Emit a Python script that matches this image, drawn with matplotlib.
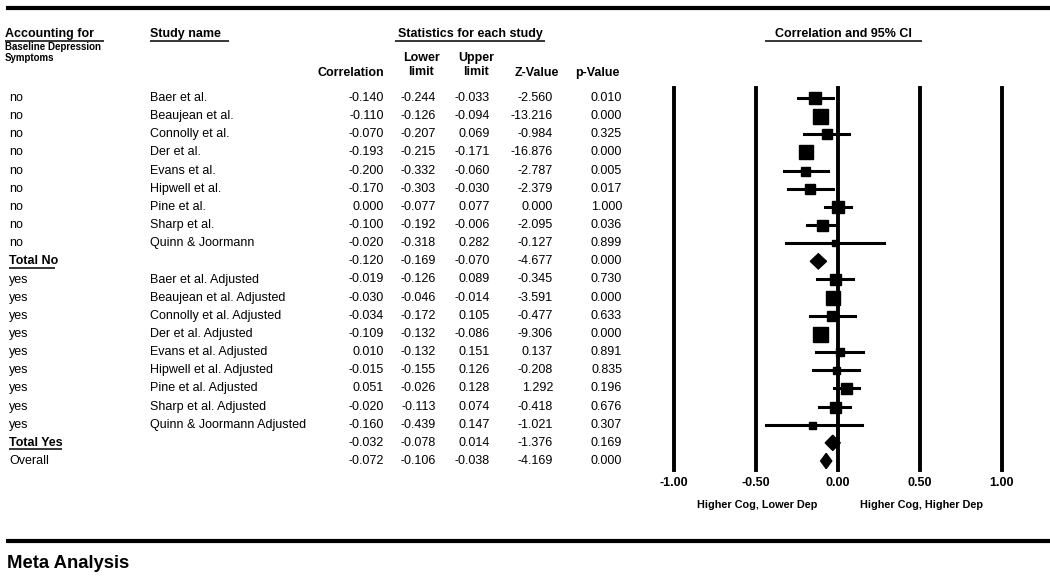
import matplotlib
matplotlib.use('Agg')
import matplotlib.pyplot as plt
from matplotlib.patches import Polygon

plt.rcParams['font.family'] = ['Liberation Sans', 'DejaVu Sans']

# Data
groups = ['no'] * 9 + ['Total No'] + ['yes'] * 9 + ['Total Yes', 'Overall']
studies = ['Baer et al.', 'Beaujean et al.', 'Connolly et al.', 'Der et al.',
           'Evans et al.', 'Hipwell et al.', 'Pine et al.', 'Sharp et al.',
           'Quinn & Joormann', '',
           'Baer et al. Adjusted', 'Beaujean et al. Adjusted', 'Connolly et al. Adjusted',
           'Der et al. Adjusted', 'Evans et al. Adjusted', 'Hipwell et al. Adjusted',
           'Pine et al. Adjusted', 'Sharp et al. Adjusted', 'Quinn & Joormann Adjusted',
           '', '']
corr = [-0.140, -0.110, -0.070, -0.193, -0.200, -0.170, 0.000, -0.100, -0.020, -0.120,
        -0.019, -0.030, -0.034, -0.109, 0.010, -0.015, 0.051, -0.020, -0.160, -0.032, -0.072]
lower = [-0.244, -0.126, -0.207, -0.215, -0.332, -0.303, -0.077, -0.192, -0.318, -0.169,
         -0.126, -0.046, -0.172, -0.132, -0.132, -0.155, -0.026, -0.113, -0.439, -0.078, -0.106]
upper = [-0.033, -0.094, 0.069, -0.171, -0.060, -0.030, 0.077, -0.006, 0.282, -0.070,
         0.089, -0.014, 0.105, -0.086, 0.151, 0.126, 0.128, 0.074, 0.147, 0.014, -0.038]
zval = [-2.560, -13.216, -0.984, -16.876, -2.787, -2.379, 0.000, -2.095, -0.127, -4.677,
        -0.345, -3.591, -0.477, -9.306, 0.137, -0.208, 1.292, -0.418, -1.021, -1.376, -4.169]
pval = [0.010, 0.000, 0.325, 0.000, 0.005, 0.017, 1.000, 0.036, 0.899, 0.000,
        0.730, 0.000, 0.633, 0.000, 0.891, 0.835, 0.196, 0.676, 0.307, 0.169, 0.000]
# relative study weight (box size)
weights = [12, 15, 10, 14, 9, 10, 12, 11, 6, 0,
           11, 14, 10, 15, 8, 7, 11, 11, 7, 0, 0]
ticks = [-1.0, -0.5, 0.0, 0.5, 1.0]

W, H = 1050, 580
fig = plt.figure(figsize=(W / 100, H / 100), dpi=100)
bg = fig.add_axes([0, 0, 1, 1])
bg.set_xlim(0, W)
bg.set_ylim(H, 0)
bg.axis('off')

fs = 9
y0, dy = 98, 18.15


def underline(x1, x2, y):
    bg.plot([x1, x2], [y, y], color='black', lw=1.1, solid_capstyle='butt')


# rules
bg.plot([6, W], [8, 8], color='black', lw=3, solid_capstyle='butt')
bg.plot([6, W], [541, 541], color='black', lw=3, solid_capstyle='butt')
bg.text(7, 564, 'Meta Analysis', fontsize=13.3, fontweight='bold', va='center')

# headers
bg.text(5, 34, 'Accounting for', fontsize=fs, fontweight='bold', va='center')
underline(5, 104, 41)
bg.text(5, 47, 'Baseline Depression', fontsize=7, fontweight='bold', va='center')
bg.text(5, 58, 'Symptoms', fontsize=7, fontweight='bold', va='center')
bg.text(150, 34, 'Study name', fontsize=fs, fontweight='bold', va='center')
underline(150, 229, 41)
bg.text(470, 34, 'Statistics for each study', fontsize=fs, fontweight='bold',
        va='center', ha='center')
underline(395, 545, 41)
bg.text(843, 34, 'Correlation and 95% CI', fontsize=fs, fontweight='bold',
        va='center', ha='center')
underline(765, 922, 41)

bg.text(351, 73, 'Correlation', fontsize=fs, fontweight='bold', va='center', ha='center')
bg.text(421, 58, 'Lower', fontsize=fs, fontweight='bold', va='center', ha='center')
bg.text(421, 72, 'limit', fontsize=fs, fontweight='bold', va='center', ha='center')
bg.text(476, 58, 'Upper', fontsize=fs, fontweight='bold', va='center', ha='center')
bg.text(476, 72, 'limit', fontsize=fs, fontweight='bold', va='center', ha='center')
bg.text(537, 73, 'Z-Value', fontsize=fs, fontweight='bold', va='center', ha='center')
bg.text(597, 73, 'p-Value', fontsize=fs, fontweight='bold', va='center', ha='center')

cols = [(384, corr), (436, lower), (490, upper), (553, zval), (622, pval)]
for i, g in enumerate(groups):
    y = y0 + dy * i
    if g.startswith('Total'):
        bg.text(9, y, g, fontsize=fs, fontweight='bold', va='center')
        underline(9, 9 + (46 if g == 'Total No' else 53), y + 6.5)
    else:
        bg.text(9, y, g, fontsize=fs, va='center')
    bg.text(150, y, studies[i], fontsize=fs, va='center')
    for x, arr in cols:
        bg.text(x, y, f'{arr[i]:.3f}', fontsize=fs, va='center', ha='right')

# forest plot
fx1, fx2 = 674, 1002
fy1, fy2 = 88, 470
ax = fig.add_axes([fx1 / W, 1 - fy2 / H, (fx2 - fx1) / W, (fy2 - fy1) / H])
ax.set_xlim(-1, 1)
ax.set_ylim((fy2 - y0) / dy, (fy1 - y0) / dy)
ax.axis('off')
for t in ticks:
    ax.axvline(t, color='black', lw=2.8, clip_on=False)

for i, g in enumerate(groups):
    if weights[i] > 0:
        ax.plot([lower[i], upper[i]], [i, i], color='black', lw=2.2, clip_on=False)
        ax.plot(corr[i], i, marker='s', color='black', markersize=weights[i] * 0.72,
                clip_on=False)
    else:
        h = 0.42
        ax.add_patch(Polygon([[lower[i], i], [corr[i], i - h], [upper[i], i], [corr[i], i + h]],
                             closed=True, color='black', clip_on=False))

for t in ticks:
    bg.text(fx1 + (t + 1) / 2 * (fx2 - fx1), 483, f'{t:.2f}', fontsize=fs,
            fontweight='bold', va='center', ha='center')
bg.text(757, 505, 'Higher Cog, Lower Dep', fontsize=7.8, fontweight='bold',
        va='center', ha='center')
bg.text(921, 505, 'Higher Cog, Higher Dep', fontsize=7.8, fontweight='bold',
        va='center', ha='center')

fig.savefig('out.png', dpi=100)
